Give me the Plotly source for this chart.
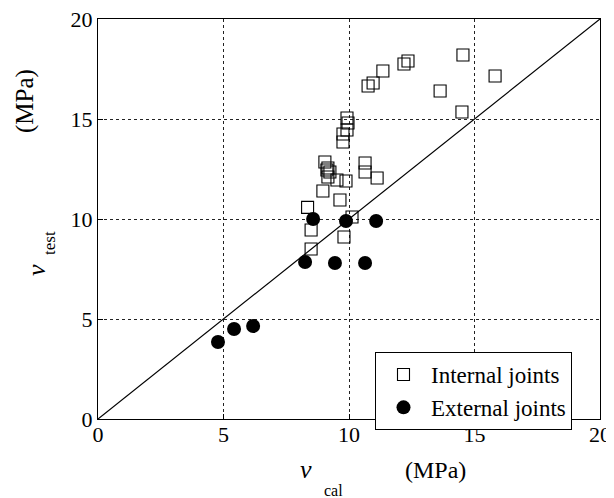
import plotly.graph_objects as go

# Internal joints (open squares)
int_vcal = [11.35, 12.19, 12.35, 14.54, 15.82, 13.63, 14.50, 10.96, 10.76,
            9.92, 9.96, 9.92, 9.76, 9.76,
            9.04, 9.16, 9.24, 9.16, 9.12, 9.88, 9.52, 8.96, 9.64,
            10.64, 10.64, 11.12, 8.35, 10.12, 8.49, 9.80, 8.49]
int_vtest = [17.40, 17.75, 17.90, 18.20, 17.15, 16.40, 15.35, 16.80, 16.65,
             15.05, 14.80, 14.45, 14.25, 13.85,
             12.85, 12.55, 12.35, 12.10, 12.45, 11.90, 11.95, 11.40, 10.95,
             12.80, 12.35, 12.05, 10.58, 10.10, 9.45, 9.10, 8.50]

# External joints (filled circles)
ext_vcal = [8.57, 9.88, 11.08, 8.25, 9.44, 10.64, 4.78, 5.42, 6.18]
ext_vtest = [10.00, 9.90, 9.90, 7.85, 7.80, 7.80, 3.85, 4.50, 4.65]

# Equality line
line_x = [0, 20]
line_y = [0, 20]

tick_vals = [0, 5, 10, 15, 20]

FONT = "Times New Roman, Liberation Serif, serif"

fig = go.Figure()
fig.add_trace(go.Scatter(x=line_x, y=line_y, mode="lines",
                         line=dict(color="black", width=1.2),
                         showlegend=False, hoverinfo="skip"))
fig.add_trace(go.Scatter(x=int_vcal, y=int_vtest, mode="markers",
                         name="Internal joints",
                         marker=dict(symbol="square-open", size=12,
                                     color="black", line=dict(width=1.1))))
fig.add_trace(go.Scatter(x=ext_vcal, y=ext_vtest, mode="markers",
                         name="External joints",
                         marker=dict(symbol="circle", size=14, color="black")))

axis_common = dict(range=[0, 20], tickvals=tick_vals, showline=True,
                   mirror=True, linecolor="black", linewidth=1,
                   showgrid=True, gridcolor="#222", gridwidth=1,
                   griddash="3px,3px", zeroline=False, automargin=False,
                   ticks="inside", ticklen=5, tickcolor="black",
                   ticklabeloverflow="allow",
                   tickfont=dict(family=FONT, size=22, color="black"))

fig.update_xaxes(**axis_common, ticklabelstandoff=-4)
fig.update_yaxes(**axis_common)

# page body has an 8px margin: figure drawn offset by (8, 8)
OFF = 8
W, H = 614 - OFF, 498 - OFF
PL, PT, PW, PH = 98 - OFF, 19 - OFF, 502, 400


def px(xp):
    return (xp - OFF - PL) / PW


def py(yp):
    return (PT + PH - (yp - OFF)) / PH


fig.update_layout(
    width=W, height=H,
    margin=dict(l=PL, r=W - PL - PW, t=PT, b=H - PT - PH, autoexpand=False),
    paper_bgcolor="white", plot_bgcolor="white",
    font=dict(family=FONT, color="black"),
    legend=dict(x=px(375), y=py(352), xanchor="left", yanchor="top",
                bgcolor="white", bordercolor="black", borderwidth=1,
                font=dict(family=FONT, size=23, color="black"),
                itemwidth=45, tracegroupgap=0),
    annotations=[
        dict(text="<i>v</i>", xref="paper", yref="paper", x=px(306),
             y=py(469), showarrow=False,
             font=dict(family=FONT, size=26), xanchor="center", yanchor="middle"),
        dict(text="cal", xref="paper", yref="paper", x=px(333),
             y=py(490), showarrow=False,
             font=dict(family=FONT, size=16), xanchor="center", yanchor="middle"),
        dict(text="(MPa)", xref="paper", yref="paper", x=px(435),
             y=py(470), showarrow=False,
             font=dict(family=FONT, size=24), xanchor="center", yanchor="middle"),
        dict(text="<i>v</i>", xref="paper", yref="paper", x=px(36),
             y=py(270), showarrow=False, textangle=-90,
             font=dict(family=FONT, size=26), xanchor="center", yanchor="middle"),
        dict(text="test", xref="paper", yref="paper", x=px(49),
             y=py(243), showarrow=False, textangle=-90,
             font=dict(family=FONT, size=17), xanchor="center", yanchor="middle"),
        dict(text="(MPa)", xref="paper", yref="paper", x=px(25),
             y=py(101), showarrow=False, textangle=-90,
             font=dict(family=FONT, size=25), xanchor="center", yanchor="middle"),
    ],
)

fig.write_html("out.html")
